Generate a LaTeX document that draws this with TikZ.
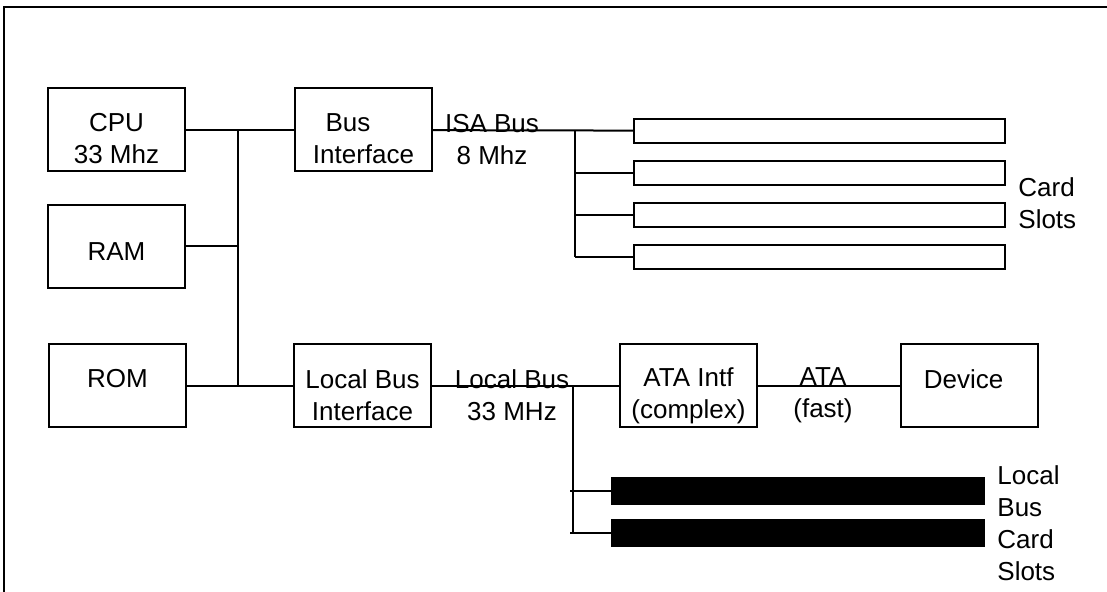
\documentclass[tikz,border=0pt]{standalone}
\usepackage{fontspec}
\setmainfont{Liberation Sans}
\usetikzlibrary{positioning}

\tikzset{
  box/.style={draw, line width=1pt, minimum width=68.5pt, minimum height=41.5pt, inner sep=0pt},
  lbl/.style={align=center, inner sep=0pt, font=\fontsize{13}{16}\selectfont},
  isaslot/.style={draw, line width=1pt, minimum width=185.5pt, minimum height=12pt, inner sep=0pt},
  lbslot/.style={isaslot, fill=black, minimum width=186pt, minimum height=13pt},
  wire/.style={line width=1pt},
}

\begin{document}
\begin{tikzpicture}[x=0.5pt, y=-0.5pt]
  \useasboundingbox (0,0) rectangle (1107,592);

  % frame
  \draw[line width=1.3pt] (1110,7) -- (4,7) -- (4,595);

  % system side
  \node[box, label={[lbl, yshift=-4.25pt]center:{CPU\\33 Mhz}}]          (cpu)   at (116.5,130) {}; %
  \node[box, right=54pt of cpu, label={[lbl, yshift=-4.25pt]center:{Bus\hspace*{15.5pt}\\Interface}}] (busif) {}; %
  \node[box, below=15.75pt of cpu, label={[lbl, yshift=-2.75pt]center:RAM}] (ram) {}; %
  \node[box, label={[lbl, yshift=3.5pt]center:ROM}]                        (rom)   at (117.5,386) {}; %
  \node[box, right=53pt of rom, label={[lbl, yshift=-4.5pt]center:{Local Bus\\Interface}}] (lbif) {}; %
  \node[box, right=93.5pt of lbif, label={[lbl, yshift=-4.75pt]center:{ATA Intf\\(complex)}}] (ata) {}; %
  \node[box, right=71pt of ata, label={[lbl, yshift=3.5pt, xshift=-3pt]center:Device}] (dev) {}; %

  % ISA card slots
  \node[isaslot] (isa1) at (819.5,131) {}; %
  \node[isaslot, below=8pt of isa1] (isa2) {}; %
  \node[isaslot, below=8pt of isa2] (isa3) {}; %
  \node[isaslot, below=8pt of isa3] (isa4) {}; %

  % local bus card slots
  \node[lbslot] (lb1) at (798,491) {}; %
  \node[lbslot, below=7pt of lb1] (lb2) {}; %

  % bus labels
  \node[lbl] (isa-lbl) at (492,139.5) {ISA Bus\\8 Mhz}; %
  \node[lbl] (lb-lbl)  at (512,395)   {Local Bus\\33 MHz}; %
  \node[lbl] (ata-lbl) at (823,395.5) {ATA\\(fast)}; %
  \node[lbl, align=left, anchor=west] (isa-cap) at (1018,203) {Card\\Slots}; %
  \node[lbl, align=left, anchor=west] (lb-cap)  at (997,523)  {Local\\Bus\\Card\\Slots}; %

  % bus rails
  \coordinate (sbx)  at (238,0); %
  \coordinate (isax) at (575,0); %
  \coordinate (lbx)  at (573,0); %

  % connect
  \draw[wire] (cpu) -- (busif);
  \draw[wire] (cpu.east -| sbx) -- (rom.east -| sbx);
  \draw[wire] (ram) -- (ram -| sbx);
  \draw[wire] (rom) -- (lbif);
  \draw[wire] (busif) -- (isa1);
  \draw[wire] (isa1.west -| isax) -- (isa4.west -| isax);
  \foreach \s in {2,3,4}
    \draw[wire] (isa\s.west -| isax) -- (isa\s);
  \draw[wire] (lbif) -- (ata);
  \draw[wire] (ata) -- (dev);
  \draw[wire] (lbif.east -| lbx) -- (lb2.west -| lbx);
  \foreach \s in {1,2}
    \draw[wire] ([xshift=-1.5pt]lb\s.west -| lbx) -- (lb\s);

\end{tikzpicture}
\end{document}
